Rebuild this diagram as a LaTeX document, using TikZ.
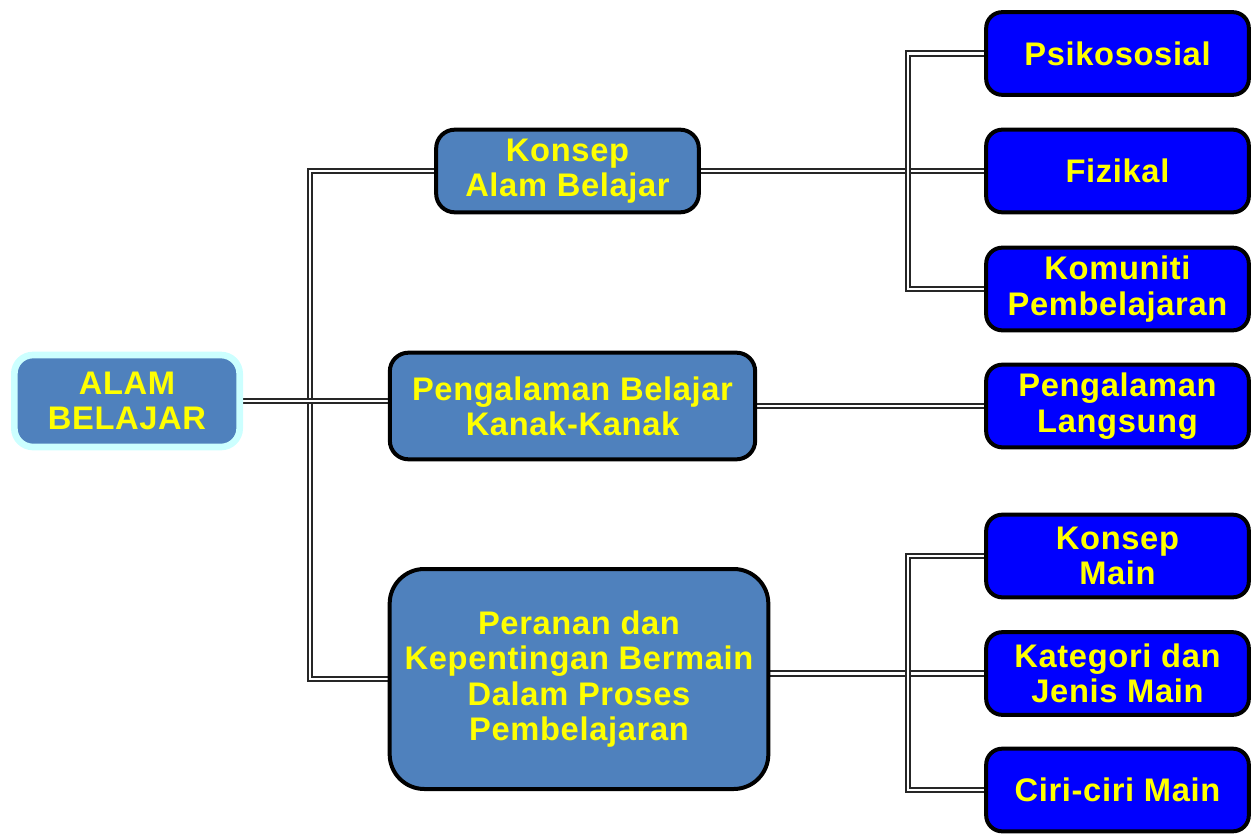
\documentclass[tikz,border=0pt]{standalone}
\usepackage{fontspec}
\setmainfont{Liberation Sans}[LetterSpace=2]
\usetikzlibrary{backgrounds}
\definecolor{steel}{HTML}{4F81BD}
\definecolor{pureblue}{HTML}{0000FF}
\definecolor{glow}{HTML}{CCFFFF}
\definecolor{label}{HTML}{FFFF00}
\begin{document}
\begin{tikzpicture}[x=0.75pt,y=-0.75pt,
  lbl/.style={text=label,font=\bfseries\fontsize{24.5}{26.5}\selectfont,align=center,inner sep=0pt},
  midbox/.style={lbl,draw=black,line width=3pt,fill=steel,rounded corners=14pt},
  leafbox/.style={lbl,draw=black,line width=3pt,fill=pureblue,rounded corners=12pt,
    minimum width=197pt,minimum height=62pt},
  conn/.style={draw=black!85,double=white,double distance=2pt,line width=1.6pt}]
\useasboundingbox (0,0) rectangle (1256,834);

% root
\node[lbl,fill=steel,draw=glow,line width=5pt,rounded corners=14pt,
  minimum width=169pt,minimum height=69pt] (root) at (127,401) {ALAM\\BELAJAR};

% middle level
\node[midbox,minimum width=197pt,minimum height=62pt] (konsep) at (567.5,171) {Konsep\\Alam Belajar};
\node[midbox,minimum width=274pt,minimum height=80pt] (peng) at (572.5,406) {Pengalaman Belajar\\Kanak-Kanak};
\node[midbox,rounded corners=26pt,minimum width=284pt,minimum height=165pt] (peranan) at (579,679)
  {Peranan dan\\Kepentingan Bermain\\Dalam Proses\\Pembelajaran};

% leaves
\node[leafbox] (psi) at (1117.5,53.5) {Psikososial};
\node[leafbox] (fiz) at (1117.5,171) {Fizikal};
\node[leafbox] (kom) at (1117.5,289) {Komuniti\\Pembelajaran};
\node[leafbox] (lang) at (1117.5,406) {Pengalaman\\Langsung};
\node[leafbox] (main) at (1117.5,556) {Konsep\\Main};
\node[leafbox] (kat) at (1117.5,673.5) {Kategori dan\\Jenis Main};
\node[leafbox] (ciri) at (1117.5,790) {Ciri-ciri Main};

\coordinate (tk) at (310,400);
\coordinate (bk) at (908,400);

\begin{scope}[on background layer]
  \draw[conn] (konsep.west) -| (tk |- peranan.west) -- (peranan.west);
  \draw[conn] (root.east) -- (root.east -| peng.west);
  \draw[conn] (konsep.east) -- (fiz.west);
  \draw[conn] (psi.west) -| (bk |- kom.west) -- (kom.west);
  \draw[conn] (peng.east |- lang.west) -- (lang.west);
  \draw[conn] (peranan.east |- kat.west) -- (kat.west);
  \draw[conn] (main.west) -| (bk |- ciri.west) -- (ciri.west);
\end{scope}
\end{tikzpicture}
\end{document}
